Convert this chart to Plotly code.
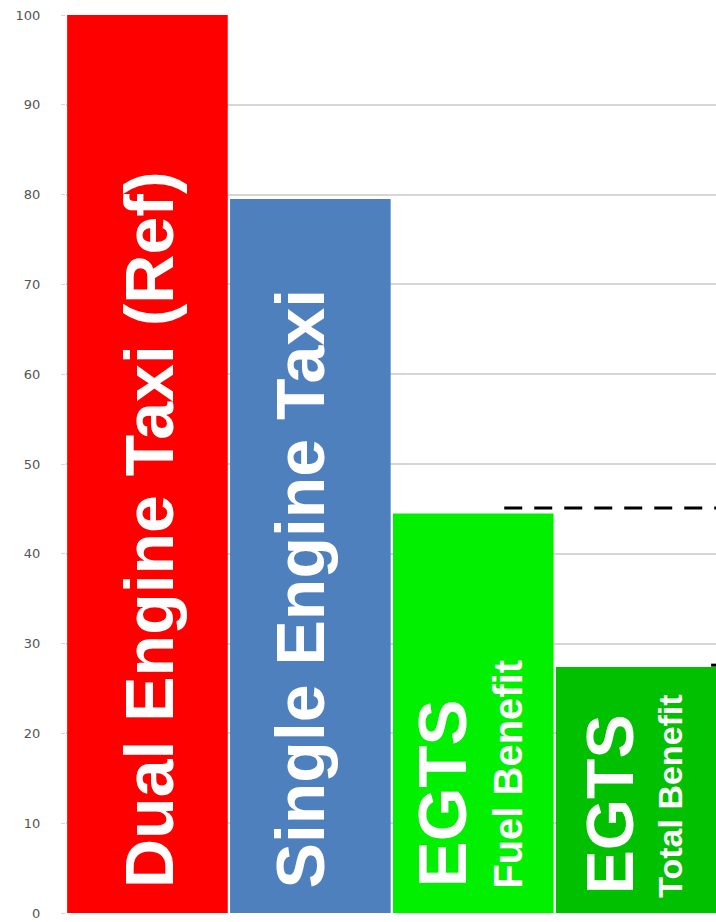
import plotly.graph_objects as go

categories = ["Dual Engine Taxi (Ref)", "Single Engine Taxi", "EGTS Fuel Benefit", "EGTS Total Benefit"]
values = [100, 79.5, 44.5, 27.4]
bar_colors = ["#ff0000", "#4f80be", "#00f000", "#00c000"]
tick_vals = [0, 10, 20, 30, 40, 50, 60, 70, 80, 90, 100]
ref_levels = [45.1, 27.6]

fig = go.Figure()
fig.add_trace(go.Bar(
    x=list(range(len(categories))), y=values,
    marker=dict(color=bar_colors, line=dict(width=0)),
    hoverinfo="skip", showlegend=False,
))

# dashed reference lines
fig.add_shape(type="line", xref="x", yref="y", x0=2.19, x1=3.6, y0=ref_levels[0], y1=ref_levels[0],
              line=dict(color="black", width=3, dash="18px,12px"))
fig.add_shape(type="line", xref="x", yref="y", x0=3.46, x1=3.6, y0=ref_levels[1], y1=ref_levels[1],
              line=dict(color="black", width=3, dash="18px,12px"))

font_main = "Liberation Sans, Arial, sans-serif"
base = 3.0
anns = [
    dict(x=0, text="<b>Dual Engine Taxi (Ref)</b>", size=68, xshift=1, yshift=-4),
    dict(x=1, text="<b>Single Engine Taxi</b>", size=68, xshift=-10, yshift=-4),
    dict(x=2, text="<b>EGTS</b>", size=69, xshift=-31, yshift=-3),
    dict(x=2, text="<b>Fuel Benefit</b>", size=40, xshift=34, yshift=-5),
    dict(x=3, text="<b>EGTS</b>", size=66, xshift=-26, yshift=-10),
    dict(x=3, text="<b>Total Benefit</b>", size=34, xshift=33, yshift=-14),
]
for a in anns:
    fig.add_annotation(x=a["x"], y=base, xref="x", yref="y", text=a["text"], textangle=-90,
                       showarrow=False, xanchor="center", yanchor="bottom",
                       xshift=a["xshift"], yshift=a["yshift"],
                       font=dict(family=font_main, size=a["size"], color="white"))

fig.update_layout(
    width=716, height=922,
    margin=dict(l=66, r=0, t=15, b=9),
    paper_bgcolor="white", plot_bgcolor="white",
    bargap=0.014,
    xaxis=dict(range=[-0.5, 3.49], showticklabels=False, showgrid=False, zeroline=False,
               showline=False, ticks=""),
    yaxis=dict(range=[0, 100], tickvals=tick_vals, showgrid=True, gridcolor="#d6d6d6", gridwidth=1.5,
               zeroline=False, showline=False, ticks="outside", ticklen=4, tickcolor="#d6d6d6",
               ticklabelstandoff=18, automargin=False, ticklabeloverflow="allow",
               tickfont=dict(family="DejaVu Sans, sans-serif", size=13, color="#555555")),
)
fig.write_html("out.html", config={"displayModeBar": False},
               post_script="document.body.style.margin='0';document.body.style.overflow='hidden';")
